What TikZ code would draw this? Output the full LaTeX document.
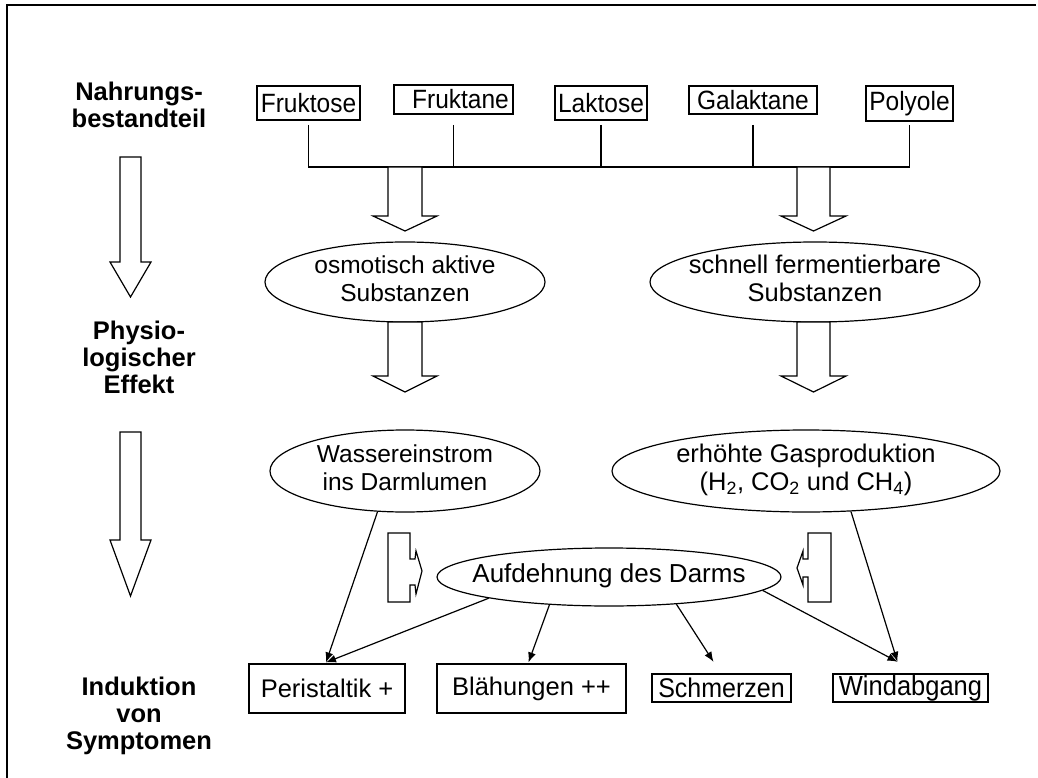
\documentclass[tikz,border=0pt]{standalone}
\usepackage{fontspec}
\usepackage{graphicx}
\setmainfont{Liberation Sans}
\usetikzlibrary{shapes.geometric,arrows.meta,calc}
\newcommand\vtxt[1]{\scalebox{1}[1.08]{#1}}
\newcommand\zw[1]{\makebox[0pt]{\begin{tabular}{@{}c@{}}#1\end{tabular}}}
\begin{document}
\begin{tikzpicture}[x=1pt,y=-1pt,
  lab/.style={font=\fontsize{25.5}{27}\selectfont\bfseries, align=center, inner sep=0pt},
  tbox/.style={draw, line width=1.9pt, inner sep=0pt, font=\fontsize{24.5}{27}\selectfont},
  bbox/.style={draw, line width=1.2pt, inner sep=0pt, font=\fontsize{25.5}{27}\selectfont},
  ell/.style={draw, ellipse, line width=1.2pt, inner sep=0pt, font=\fontsize{24.5}{28}\selectfont},
  blk/.style={draw, line width=1.2pt, fill=white, line join=miter},
  con/.style={line width=1.2pt},
  arr/.style={line width=1.2pt, -{Latex[length=10pt,width=8pt]}},
  frame/.style={line width=2pt}
]
\useasboundingbox (0,0) rectangle (1038,778);
% frame
\draw[frame] (7,778) -- (7,5) -- (1036,5);

% left labels
\node[lab] (l1) at (139,105) {Nahrungs-\\bestandteil};
\node[lab] (l2) at (139,357) {Physio-\\logischer\\Effekt};
\node[lab] (l3) at (139,716) {Induktion\\von\\Symptomen};

% left big arrows
\draw[blk] (120,157) -- (141,157) -- (141,262) -- (151,262) -- (130.5,297) -- (110,262) -- (120,262) -- cycle;
\draw[blk] (120,432) -- (141,432) -- (141,540) -- (151,540) -- (130.5,596) -- (110,540) -- (120,540) -- cycle;

% top boxes
\node[tbox, minimum width=103pt, minimum height=34pt] (fru) at (308.5,103) {\vtxt{Fruktose}};
\node[tbox, minimum width=119pt, minimum height=29pt] (frk) at (453.5,99.5) {\hspace{14pt}\vtxt{Fruktane}};
\node[tbox, minimum width=92pt, minimum height=34pt] (lak) at (601,103) {\vtxt{Laktose}};
\node[tbox, minimum width=128pt, minimum height=28pt] (gal) at (753,100) {\vtxt{Galaktane}};
\node[tbox, minimum width=87pt, minimum height=35pt] (pol) at (909.5,103.5) {\vtxt{Polyole}};

% bus
\coordinate (bus) at (0,167);
\coordinate (btop) at (0,125);
\draw[con] (fru.south |- btop) -- (fru.south |- bus) -- (pol.south |- bus) -- (pol.south |- btop);
\foreach \n in {frk,lak,gal} \draw[con] (\n.south |- btop) -- (\n.south |- bus);

% ellipses
\node[ell, minimum width=280pt, minimum height=80pt] (osm) at (405,282) {\zw{osmotisch aktive\\Substanzen}};
\node[ell, minimum width=330pt, minimum height=80pt, font=\fontsize{25.5}{28}\selectfont] (fer) at (815,282) {\zw{schnell fermentierbare\\Substanzen}};
\node[ell, minimum width=270pt, minimum height=82pt] (was) at (405,471) {\zw{Wassereinstrom\\ins Darmlumen}};
\node[ell, minimum width=388pt, minimum height=82pt, font=\fontsize{25.5}{28}\selectfont] (gas) at (806,471) {\zw{erh\"ohte Gasproduktion\\(H\textsubscript{2}, CO\textsubscript{2} und CH\textsubscript{4})}};
\node[ell, minimum width=344pt, minimum height=58pt, font=\fontsize{26}{28}\selectfont] (auf) at (609,577) {\zw{Aufdehnung des Darms}};

% block arrows (down)
\draw[blk] (388,167) -- (422,167) -- (422,216) -- (437,216) -- (405,231) -- (373,216) -- (388,216) -- cycle;
\draw[blk] (797,167) -- (830,167) -- (830,216) -- (846,216) -- (813.5,231) -- (781,216) -- (797,216) -- cycle;
\draw[blk] (388,322) -- (422,322) -- (422,376) -- (437,376) -- (405,392) -- (373,376) -- (388,376) -- cycle;
\draw[blk] (797,322) -- (830,322) -- (830,376) -- (846,376) -- (813.5,392) -- (781,376) -- (797,376) -- cycle;

% bent block arrows
\draw[blk] (388,533) -- (410,533) -- (410,559) -- (415,559) -- (416,551) -- (422,571) -- (416,594) -- (415,585) -- (410,585) -- (410,602) -- (388,602) -- cycle;
\draw[blk] (831,533) -- (808,533) -- (808,559) -- (803,559) -- (803,551) -- (797,568) -- (803,585) -- (803,577) -- (808,577) -- (808,602) -- (831,602) -- cycle;

% bottom boxes
\node[bbox, minimum width=156pt, minimum height=49pt] (per) at (327,688.5) {Peristaltik +};
\node[bbox, minimum width=189pt, minimum height=49pt] (bla) at (531.5,688.5) {Bl\"ahungen ++};
\node[tbox, line width=2.4pt, minimum width=139pt, minimum height=28pt, font=\fontsize{25}{27}\selectfont] (sch) at (721.5,688) {\vtxt{Schmerzen}};
\node[tbox, line width=2.4pt, minimum width=155pt, minimum height=28pt, font=\fontsize{25.5}{27}\selectfont] (win) at (910.5,688) {\vtxt{Windabgang}};

% connectors
\draw[arr] (was.236) -- ($(per.north)+(-1,-1)$);
\draw[arr] (auf.190) -- ($(per.north)+(-1,-1)$);
\draw[arr] (auf.205) -- ($(bla.north)+(-3,-1)$);
\draw[arr] (auf.338) -- ($(sch.north)+(-8,-11)$);
\draw[arr] (auf.355) -- ($(win.north)+(-13,-11)$);
\draw[arr] (gas.318) -- ($(win.north)+(-13,-11)$);
\end{tikzpicture}
\end{document}
